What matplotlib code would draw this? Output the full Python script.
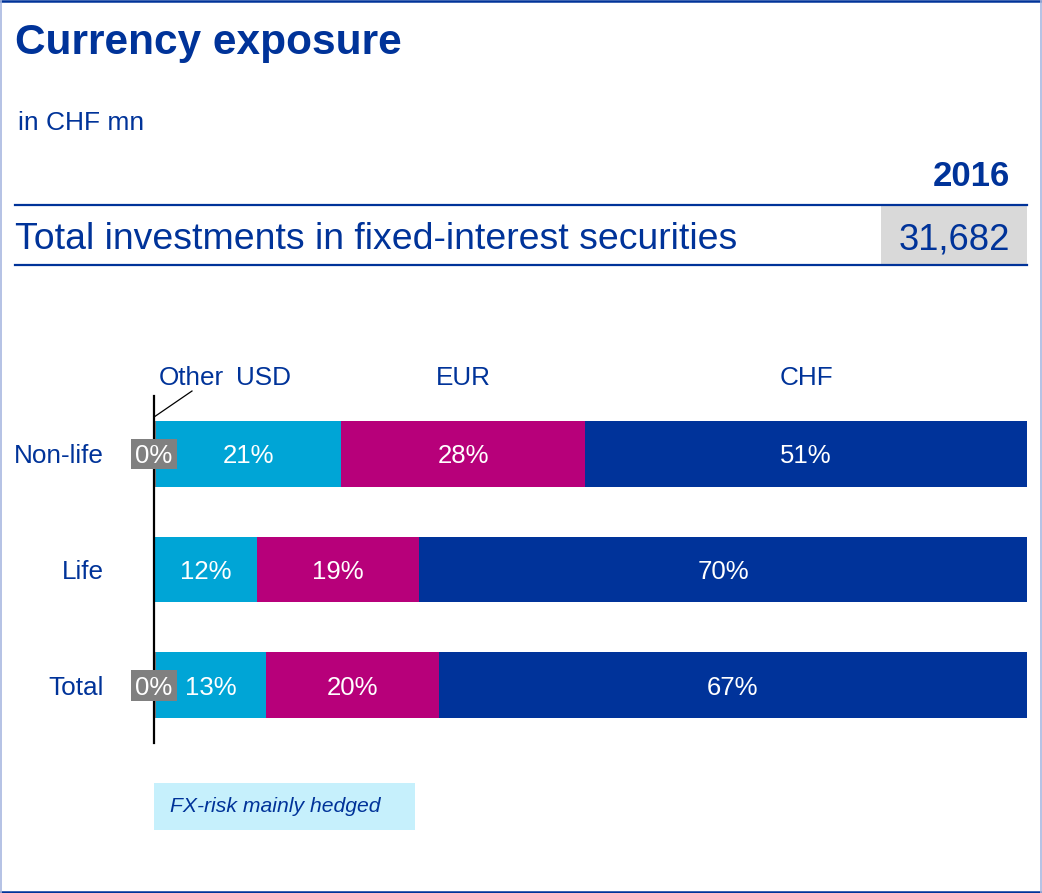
import matplotlib
matplotlib.use("Agg")
import matplotlib.pyplot as plt
from matplotlib.patches import Rectangle
from matplotlib.lines import Line2D

plt.rcParams['font.family'] = ['Liberation Sans', 'DejaVu Sans']

# ---- data ----
categories = ["Non-life", "Life", "Total"]
series_names = ["Other", "USD", "EUR", "CHF"]
other = [0.2, 0.0, 0.2]
usd = [21.2, 11.8, 12.6]
eur = [28.0, 18.6, 19.8]
chf = [50.6, 69.6, 67.4]
other_labels = ["0%", None, "0%"]
year_label = "2016"
total_label = "Total investments in fixed-interest securities"
total_value = "31,682"

DARK = "#003399"
C_USD = "#00A5D6"
C_EUR = "#B7007A"
C_CHF = "#00339A"
GRAY = "#808080"

W, H = 1042, 893
fig = plt.figure(figsize=(W / 100, H / 100), dpi=100)

def fx(px):
    return px / W

def fy(py):
    return 1 - py / H

# ---- frame border ----
fig.add_artist(Line2D([0, 1], [fy(1), fy(1)], color=DARK, lw=1.8, transform=fig.transFigure))
fig.add_artist(Line2D([0, 1], [fy(891.5), fy(891.5)], color=DARK, lw=1.8, transform=fig.transFigure))
fig.add_artist(Line2D([fx(0.5), fx(0.5)], [0, 1], color="#A8B8E0", lw=1.2, transform=fig.transFigure))
fig.add_artist(Line2D([fx(1040.5), fx(1040.5)], [0, 1], color="#A8B8E0", lw=1.2, transform=fig.transFigure))

# ---- header texts ----
fig.text(fx(15), fy(54), "Currency exposure", fontsize=30.5, fontweight="bold",
         color=DARK, va="baseline", ha="left")
fig.text(fx(18), fy(130), "in CHF mn", fontsize=19, color=DARK, va="baseline", ha="left")
fig.text(fx(1010), fy(186), year_label, fontsize=25, fontweight="bold",
         color=DARK, va="baseline", ha="right")

fig.add_artist(Rectangle((fx(881), fy(264)), fx(1027) - fx(881), fy(205) - fy(264),
                         facecolor="#D9D9D9", edgecolor="none", transform=fig.transFigure))
fig.add_artist(Line2D([fx(15), fx(1027)], [fy(205), fy(205)], color=DARK, lw=1.6,
                      transform=fig.transFigure))
fig.add_artist(Line2D([fx(15), fx(1027)], [fy(265), fy(265)], color=DARK, lw=1.6,
                      transform=fig.transFigure))
fig.text(fx(15), fy(249), total_label, fontsize=26.9, color=DARK, va="baseline", ha="left")
fig.text(fx(1010), fy(249), total_value, fontsize=26.2, color=DARK, va="baseline", ha="right")

# ---- bar chart ----
ax = fig.add_axes([fx(154), fy(743), fx(1027) - fx(154), fy(396) - fy(743)])
ax.set_xlim(0, 100)
ax.set_ylim(2.5, -0.5)
ypos = list(range(len(categories)))
bh = 0.57
dy = 0.022  # small vertical nudge for text centring

left = [0.0] * len(categories)
for vals, col in [(other, GRAY), (usd, C_USD), (eur, C_EUR), (chf, C_CHF)]:
    ax.barh(ypos, vals, left=left, height=bh, color=col, edgecolor="none")
    if col != GRAY:
        for i, v in enumerate(vals):
            ax.text(left[i] + v / 2, ypos[i] + dy, f"{round(v)}%", ha="center", va="center",
                    color="white", fontsize=18.5)
    left = [l + v for l, v in zip(left, vals)]

# "Other" small labels in gray boxes
for i, lab in enumerate(other_labels):
    if lab:
        ax.add_patch(Rectangle((-2.63, ypos[i] - 0.13), 5.26, 0.265, facecolor=GRAY,
                               edgecolor="none", clip_on=False, zorder=5))
        ax.text(0, ypos[i] + dy, lab, ha="center", va="center", color="white",
                fontsize=18.5, zorder=6, clip_on=False)

for s in ["top", "right", "bottom"]:
    ax.spines[s].set_visible(False)
ax.spines["left"].set_color("black")
ax.spines["left"].set_linewidth(1.6)
ax.spines["left"].set_zorder(4)
ax.set_xticks([])
ax.set_yticks(ypos)
ax.set_yticklabels(categories, fontsize=18.8, color=DARK)
ax.tick_params(axis="y", length=0, pad=36)
ax.patch.set_alpha(0)

# series headers
hy = -0.5 - 18 / 115.5
ax.text(0.6, hy, "Other", ha="left", va="center", color=DARK, fontsize=18.8, clip_on=False)
ax.text(9.4, hy, "USD", ha="left", va="center", color=DARK, fontsize=18.8, clip_on=False)
ax.text(other[0] + usd[0] + eur[0] / 2, hy, "EUR", ha="center", va="center", color=DARK,
        fontsize=18.8, clip_on=False)
ax.text(other[0] + usd[0] + eur[0] + chf[0] / 2, hy, "CHF", ha="center", va="center",
        color=DARK, fontsize=18.8, clip_on=False)
ax.plot([0, 4.35], [-0.318, -0.543], color="black", lw=0.9, clip_on=False)

# note box
fig.add_artist(Rectangle((fx(154), fy(830)), fx(415) - fx(154), fy(783) - fy(830),
                         facecolor="#C6F0FC", edgecolor="none", transform=fig.transFigure))
fig.text(fx(170), fy(806), "FX-risk mainly hedged", fontsize=15.2, fontstyle="italic",
         color=DARK, va="center", ha="left")

fig.savefig("out.png", dpi=100)
